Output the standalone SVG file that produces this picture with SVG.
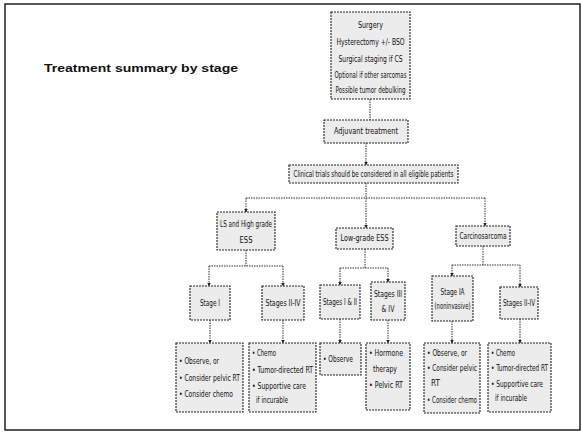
<svg xmlns="http://www.w3.org/2000/svg" width="582" height="444" viewBox="0 0 582 444">
<defs>
<style>
.box{fill:#ececec;stroke:#222;stroke-width:1.1;stroke-dasharray:2 1}
.t{font-family:"Liberation Sans Narrow","DejaVu Sans Condensed","Liberation Sans",sans-serif;font-size:8.3px;fill:#111;font-stretch:condensed}
.c{text-anchor:middle}
.ln{fill:none;stroke:#333;stroke-width:1;stroke-dasharray:1.5 1}
.ar{fill:none;stroke:#333;stroke-width:1;stroke-dasharray:1.5 1;marker-end:url(#ah)}
</style>
<marker id="ah" markerWidth="4" markerHeight="4" refX="3.5" refY="2" orient="auto" markerUnits="userSpaceOnUse">
<path d="M0,0 L4,2 L0,4 z" fill="#222"/>
</marker>
</defs>
<rect x="0" y="0" width="582" height="444" fill="#fff"/>
<rect x="5" y="4" width="575" height="426" fill="none" stroke="#222" stroke-width="1.5"/>
<text x="44" y="72" font-family="Liberation Sans, sans-serif" font-weight="bold" font-size="11.5" fill="#111" textLength="194" lengthAdjust="spacingAndGlyphs">Treatment summary by stage</text>

<g id="connectors">
<line class="ln" x1="370" y1="99" x2="370" y2="120"/>
<line class="ar" x1="366" y1="143" x2="366" y2="165"/>
<line class="ln" x1="366" y1="183" x2="366" y2="198"/>
<line class="ln" x1="246" y1="198" x2="485" y2="198"/>
<line class="ar" x1="246" y1="198" x2="246" y2="212"/>
<line class="ar" x1="366" y1="198" x2="366" y2="228"/>
<line class="ar" x1="485" y1="198" x2="485" y2="226"/>
<line class="ln" x1="246" y1="250" x2="246" y2="266"/>
<line class="ln" x1="209" y1="266" x2="283" y2="266"/>
<line class="ar" x1="209" y1="266" x2="209" y2="286"/>
<line class="ar" x1="283" y1="266" x2="283" y2="286"/>
<line class="ln" x1="365" y1="249" x2="365" y2="268"/>
<line class="ln" x1="340" y1="268" x2="388" y2="268"/>
<line class="ar" x1="340" y1="268" x2="340" y2="285"/>
<line class="ar" x1="388" y1="268" x2="388" y2="282"/>
<line class="ln" x1="483" y1="246" x2="483" y2="265"/>
<line class="ln" x1="452" y1="265" x2="520" y2="265"/>
<line class="ar" x1="452" y1="265" x2="452" y2="276"/>
<line class="ar" x1="520" y1="265" x2="520" y2="287"/>
<line class="ar" x1="210" y1="320" x2="210" y2="343"/>
<line class="ar" x1="283" y1="320" x2="283" y2="343"/>
<line class="ar" x1="340" y1="319" x2="340" y2="343"/>
<line class="ar" x1="388" y1="320" x2="388" y2="343"/>
<line class="ar" x1="452" y1="321" x2="452" y2="343"/>
<line class="ar" x1="520" y1="319" x2="520" y2="343"/>
</g>

<g id="surgery">
<rect class="box" x="331" y="12" width="79" height="87"/>
<text class="t c" x="370.5" y="28" textLength="25" lengthAdjust="spacingAndGlyphs">Surgery</text>
<text class="t c" x="370.5" y="45" textLength="68" lengthAdjust="spacingAndGlyphs">Hysterectomy +/- BSO</text>
<text class="t c" x="370.5" y="62" textLength="64" lengthAdjust="spacingAndGlyphs">Surgical staging if CS</text>
<text class="t c" x="370.5" y="78" textLength="72" lengthAdjust="spacingAndGlyphs">Optional if other sarcomas</text>
<text class="t c" x="370.5" y="93" textLength="70" lengthAdjust="spacingAndGlyphs">Possible tumor debulking</text>
</g>

<g id="adjuvant">
<rect class="box" x="324" y="120" width="84" height="23"/>
<text class="t c" x="366" y="134" textLength="64" lengthAdjust="spacingAndGlyphs">Adjuvant treatment</text>
</g>

<g id="clinical">
<rect class="box" x="289" y="165" width="169" height="18"/>
<text class="t c" x="373.5" y="177" textLength="160" lengthAdjust="spacingAndGlyphs">Clinical trials should be considered in all eligible patients</text>
</g>

<g id="ls-hg-ess">
<rect class="box" x="217" y="212" width="58" height="38"/>
<text class="t c" x="246" y="227" textLength="52" lengthAdjust="spacingAndGlyphs">LS and High grade</text>
<text class="t c" x="246" y="243" textLength="13" lengthAdjust="spacingAndGlyphs">ESS</text>
</g>

<g id="lg-ess">
<rect class="box" x="336" y="228" width="57" height="21"/>
<text class="t c" x="364.5" y="241" textLength="48" lengthAdjust="spacingAndGlyphs">Low-grade ESS</text>
</g>

<g id="carcinosarcoma">
<rect class="box" x="456" y="226" width="54" height="20"/>
<text class="t c" x="483" y="239" textLength="47" lengthAdjust="spacingAndGlyphs">Carcinosarcoma</text>
</g>

<g id="ls-stage-i">
<rect class="box" x="190" y="286" width="40" height="34"/>
<text class="t c" x="210" y="306" textLength="20" lengthAdjust="spacingAndGlyphs">Stage I</text>
</g>

<g id="ls-stage-ii-iv">
<rect class="box" x="262" y="286" width="42" height="34"/>
<text class="t c" x="283" y="306" textLength="35" lengthAdjust="spacingAndGlyphs">Stages II-IV</text>
</g>

<g id="lg-stage-i-ii">
<rect class="box" x="320" y="285" width="40" height="34"/>
<text class="t c" x="340" y="305" textLength="34" lengthAdjust="spacingAndGlyphs">Stages I &amp; II</text>
</g>

<g id="lg-stage-iii-iv">
<rect class="box" x="371" y="282" width="34" height="38"/>
<text class="t c" x="388" y="297" textLength="28" lengthAdjust="spacingAndGlyphs">Stages III</text>
<text class="t c" x="388" y="312" textLength="13" lengthAdjust="spacingAndGlyphs">&amp; IV</text>
</g>

<g id="cs-stage-ia">
<rect class="box" x="432" y="276" width="41" height="45"/>
<text class="t c" x="452.5" y="295" textLength="24" lengthAdjust="spacingAndGlyphs">Stage IA</text>
<text class="t c" x="452.5" y="309" textLength="36" lengthAdjust="spacingAndGlyphs">(noninvasive)</text>
</g>

<g id="cs-stage-ii-iv">
<rect class="box" x="500" y="287" width="38" height="32"/>
<text class="t c" x="519" y="306" textLength="32" lengthAdjust="spacingAndGlyphs">Stages II-IV</text>
</g>

<g id="ls-tx-i">
<rect class="box" x="176" y="343" width="67" height="69"/>
<text class="t" x="179" y="364" textLength="40" lengthAdjust="spacingAndGlyphs">• Observe, or</text>
<text class="t" x="179" y="381" textLength="61" lengthAdjust="spacingAndGlyphs">• Consider pelvic RT</text>
<text class="t" x="179" y="397" textLength="54" lengthAdjust="spacingAndGlyphs">• Consider chemo</text>
</g>

<g id="ls-tx-ii-iv">
<rect class="box" x="249" y="343" width="67" height="69"/>
<text class="t" x="252" y="356" textLength="24" lengthAdjust="spacingAndGlyphs">• Chemo</text>
<text class="t" x="252" y="373" textLength="61" lengthAdjust="spacingAndGlyphs">• Tumor-directed RT</text>
<text class="t" x="252" y="389" textLength="54" lengthAdjust="spacingAndGlyphs">• Supportive care</text>
<text class="t" x="256" y="403" textLength="32" lengthAdjust="spacingAndGlyphs">if incurable</text>
</g>

<g id="lg-tx-i-ii">
<rect class="box" x="320" y="343" width="41" height="32"/>
<text class="t" x="323" y="362" textLength="30" lengthAdjust="spacingAndGlyphs">• Observe</text>
</g>

<g id="lg-tx-iii-iv">
<rect class="box" x="366" y="343" width="44" height="67"/>
<text class="t" x="369" y="356" textLength="34" lengthAdjust="spacingAndGlyphs">• Hormone</text>
<text class="t" x="373" y="372" textLength="24" lengthAdjust="spacingAndGlyphs">therapy</text>
<text class="t" x="369" y="388" textLength="34" lengthAdjust="spacingAndGlyphs">• Pelvic RT</text>
</g>

<g id="cs-tx-ia">
<rect class="box" x="424" y="343" width="56" height="70"/>
<text class="t" x="427" y="356" textLength="40" lengthAdjust="spacingAndGlyphs">• Observe, or</text>
<text class="t" x="427" y="371" textLength="50" lengthAdjust="spacingAndGlyphs">• Consider pelvic</text>
<text class="t" x="431" y="386" textLength="9" lengthAdjust="spacingAndGlyphs">RT</text>
<text class="t" x="427" y="403" textLength="50" lengthAdjust="spacingAndGlyphs">• Consider chemo</text>
</g>

<g id="cs-tx-ii-iv">
<rect class="box" x="488" y="343" width="63" height="69"/>
<text class="t" x="491" y="356" textLength="24" lengthAdjust="spacingAndGlyphs">• Chemo</text>
<text class="t" x="491" y="371" textLength="57" lengthAdjust="spacingAndGlyphs">• Tumor-directed RT</text>
<text class="t" x="491" y="387" textLength="52" lengthAdjust="spacingAndGlyphs">• Supportive care</text>
<text class="t" x="495" y="401" textLength="32" lengthAdjust="spacingAndGlyphs">if incurable</text>
</g>
</svg>
